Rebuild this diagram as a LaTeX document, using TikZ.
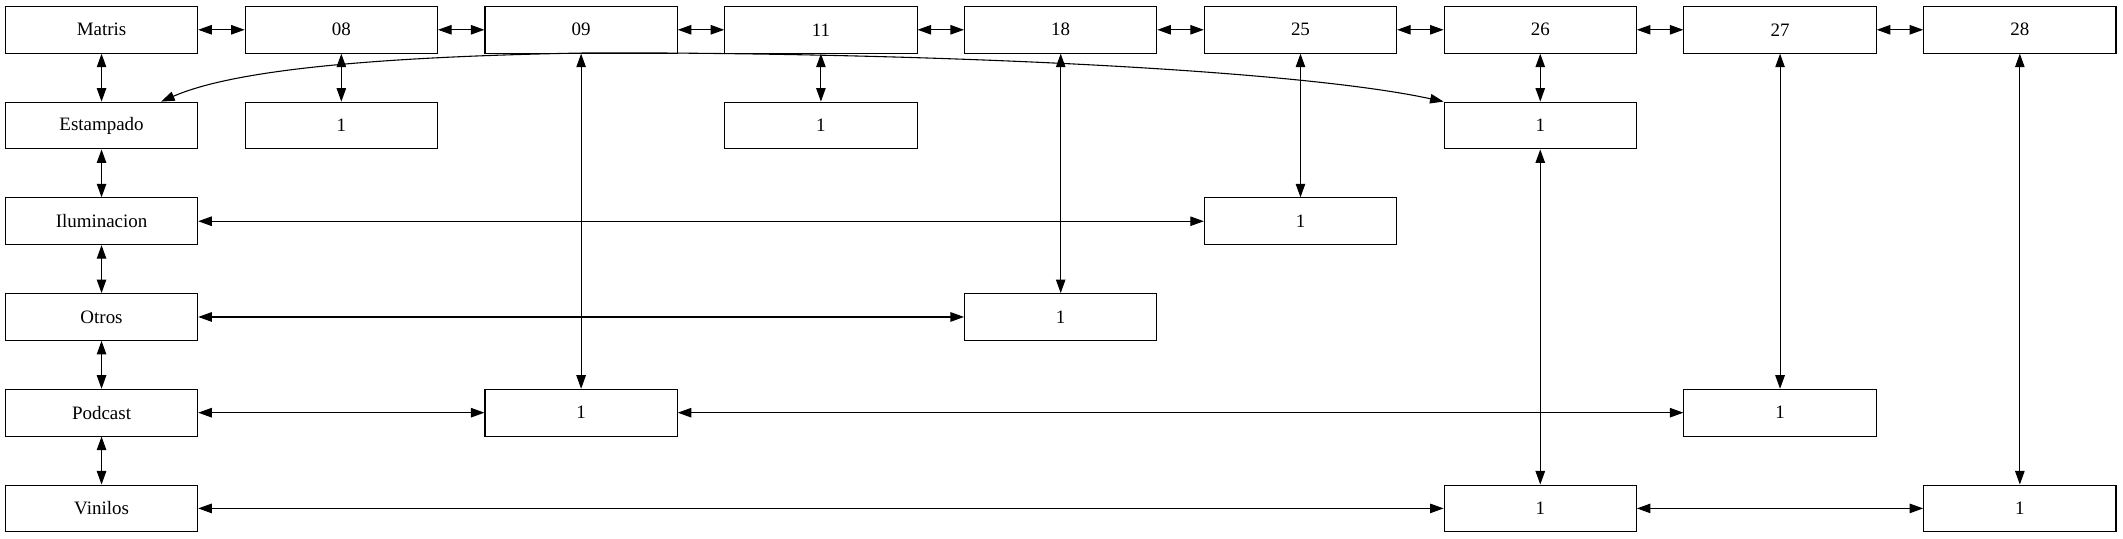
\documentclass[tikz,border=0pt]{standalone}
\usepackage{fontspec}
\setmainfont{Liberation Serif}
\usetikzlibrary{arrows.meta}
\begin{document}
\begin{tikzpicture}[x=1pt,y=-1pt,
  box/.style={draw,line width=0.8pt,minimum width=142pt,minimum height=34.5pt,inner sep=0pt,font=\fontsize{14}{16}\selectfont},
  link/.style={line width=0.8pt,{Triangle[length=10pt,width=7pt]}-{Triangle[length=10pt,width=7pt]}}]
\useasboundingbox (0,0) rectangle (1568,398);
% row 0
\node[box] (m)   at (75,22)    {Matris};
\node[box] (c08) at (252.1,22) {08};
\node[box] (c09) at (429.2,22) {09};
\node[box] (c11) at (606.3,22) {11};
\node[box] (c18) at (783.4,22) {18};
\node[box] (c25) at (960.5,22) {25};
\node[box] (c26) at (1137.6,22) {26};
\node[box] (c27) at (1314.7,22) {27};
\node[box] (c28) at (1491.8,22) {28};
% column 0
\node[box] (est) at (75,92.7)  {Estampado};
\node[box] (ilu) at (75,163.4) {Iluminacion};
\node[box] (otr) at (75,234.1) {Otros};
\node[box] (pod) at (75,304.8) {Podcast};
\node[box] (vin) at (75,375.5) {Vinilos};
% value nodes
\node[box] (a1) at (252.1,92.7)  {1};
\node[box] (b1) at (606.3,92.7)  {1};
\node[box] (d1) at (1137.6,92.7) {1};
\node[box] (e1) at (960.5,163.4) {1};
\node[box] (f1) at (783.4,234.1) {1};
\node[box] (g1) at (429.2,304.8) {1};
\node[box] (h1) at (1314.7,304.8) {1};
\node[box] (k1) at (1137.6,375.5) {1};
\node[box] (l1) at (1491.8,375.5) {1};
% top row chain
\draw[link] (m) -- (c08);
\draw[link] (c08) -- (c09);
\draw[link] (c09) -- (c11);
\draw[link] (c11) -- (c18);
\draw[link] (c18) -- (c25);
\draw[link] (c25) -- (c26);
\draw[link] (c26) -- (c27);
\draw[link] (c27) -- (c28);
% left column chain
\draw[link] (m) -- (est);
\draw[link] (est) -- (ilu);
\draw[link] (ilu) -- (otr);
\draw[link] (otr) -- (pod);
\draw[link] (pod) -- (vin);
% verticals
\draw[link] (c08) -- (a1);
\draw[link] (c11) -- (b1);
\draw[link] (c26) -- (d1);
\draw[link] (c09) -- (g1);
\draw[link] (c18) -- (f1);
\draw[link] (c25) -- (e1);
\draw[link] (c27) -- (h1);
\draw[link] (c28) -- (l1);
\draw[link] (d1) -- (k1);
% horizontals
\draw[link] (ilu) -- (e1);
\draw[link] (otr) -- (f1);
\draw[link] (pod) -- (g1);
\draw[link] (g1) -- (h1);
\draw[link] (vin) -- (k1);
\draw[link] (k1) -- (l1);
% curved link
\draw[link] ([xshift=44pt]est.north) .. controls (165,55) and (250,42) .. (440,39)
  .. controls (700,39) and (960,52) .. (d1.north west);
\end{tikzpicture}
\end{document}
